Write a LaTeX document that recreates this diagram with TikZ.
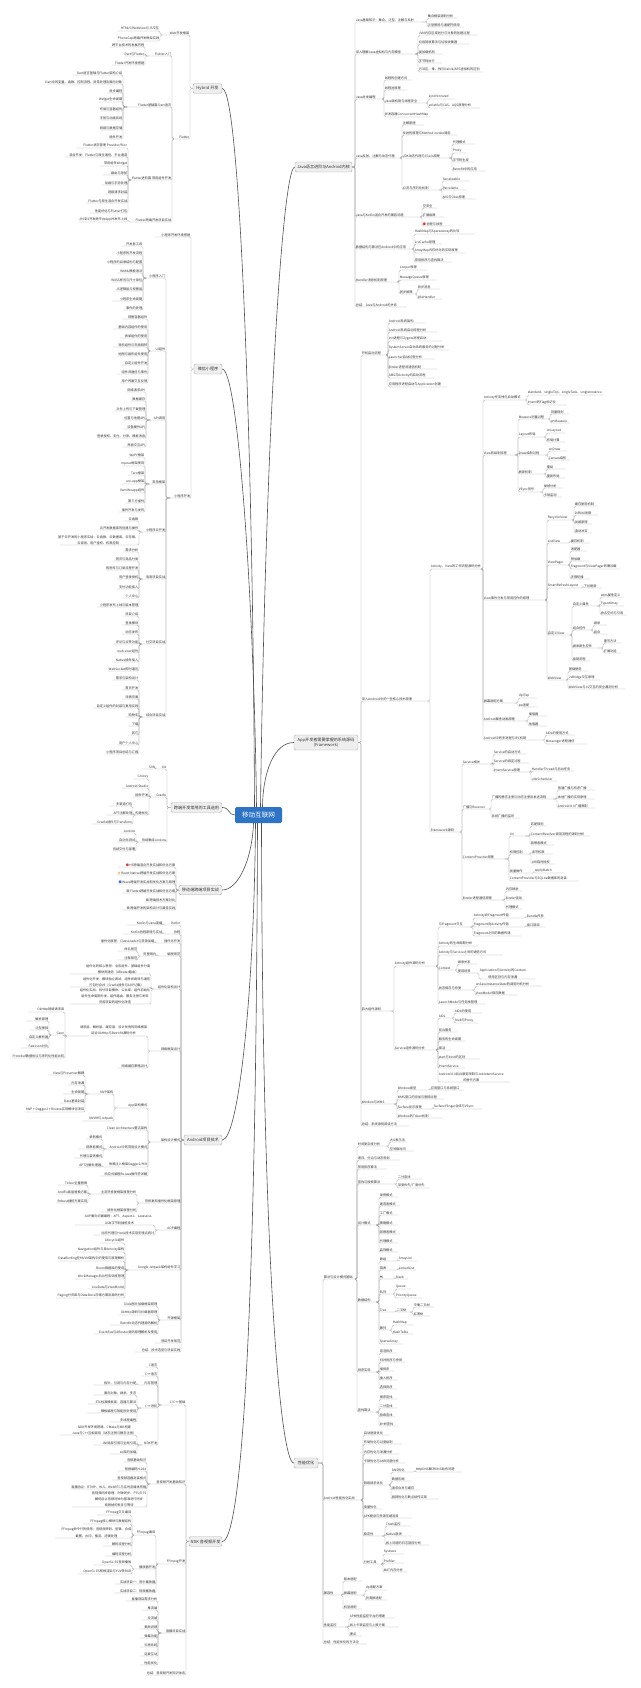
\documentclass[tikz,border=0pt]{standalone}
\usepackage{fontspec}
\setmainfont{Noto Sans CJK SC}
\definecolor{lineG}{HTML}{A0A0A0}
\definecolor{txtG}{HTML}{333333}
\definecolor{boxF}{HTML}{EEEEEE}
\definecolor{boxD}{HTML}{AFAFAF}
\definecolor{mainB}{HTML}{2D74C4}
\definecolor{curveG}{HTML}{505050}
\definecolor{iconR}{HTML}{D9393E}
\definecolor{iconO}{HTML}{F2A531}
\definecolor{iconB}{HTML}{4A6FD8}
\definecolor{iconG}{HTML}{9A9A9A}
\tikzset{
  rn/.style={anchor=south west, inner xsep=0pt, inner ysep=0.45pt, outer sep=0pt, text=txtG},
  ln/.style={anchor=south east, inner xsep=0pt, inner ysep=0.45pt, outer sep=0pt, text=txtG},
  conn/.style={draw=lineG, line width=0.35pt, rounded corners=1.5pt},
  brbox/.style={draw=boxD, fill=boxF, rounded corners=1.5pt, line width=0.4pt, inner sep=0.5pt, text=txtG, font=\fontsize{4.1}{4.9}\selectfont},
  mainbox/.style={fill=mainB, rounded corners=1.5pt, text=white, inner sep=0pt, font=\fontsize{6.6}{8}\selectfont},
  cur/.style={draw=curveG, line width=0.6pt},
  anc/.style={inner sep=0pt, minimum size=0pt, outer sep=0pt}
}
\newcommand\RN[6]{\node[rn] (#2) at (#3,#5) {\makebox[\dimexpr#4pt-#3pt\relax][l]{\hspace{0.8pt}#6}};\draw[conn] (#1.south east) -| (#2.south west) -- (#2.south east);}
\newcommand\LN[6]{\node[ln] (#2) at (#4,#5) {\makebox[\dimexpr#4pt-#3pt\relax][r]{#6\hspace{0.8pt}}};\draw[conn] (#1.south west) -| (#2.south east) -- (#2.south west);}
\begin{document}
\begin{tikzpicture}[x=1pt,y=-1pt,font=\fontsize{3.2}{3.7}\selectfont]
\fill[white] (0,0) rectangle (640,1688);
\useasboundingbox (0,0) rectangle (640,1688);

% ---------- main and branch boxes ----------
\node[mainbox, minimum width=47pt, minimum height=16pt] (main) at (258.5,815) {移动互联网};
\node[brbox, minimum width=29pt, minimum height=9.5pt] (hyb) at (207.5,88.5) {Hybrid 开发};
\node[brbox, minimum width=57pt, minimum height=10pt] (java) at (323.5,167) {Java语言进阶与Android内核};
\node[brbox, minimum width=28pt, minimum height=10pt] (wx) at (208,369) {微信小程序};
\node[brbox, minimum width=64pt, minimum height=15pt, align=center] (fw) at (326,742.5) {App开发者需要掌握的系统源码\\(Framework)};
\node[brbox, minimum width=51pt, minimum height=9.5pt] (kd) at (196.5,807.5) {跨端开发常用的工具选用};
\node[brbox, minimum width=43pt, minimum height=9.5pt] (sz) at (200.5,890) {移动端跨端项目实战};
\node[brbox, minimum width=38pt, minimum height=10pt] (ad) at (203,1140) {Android项目技术};
\node[brbox, minimum width=24pt, minimum height=10pt] (perf) at (306,1463) {性能优化};
\node[brbox, minimum width=33pt, minimum height=9.5pt] (ndk) at (205.5,1541.5) {NDK 音视频开发};

\node[anc] (hybA) at (hyb.west) {};
\node[anc] (wxA) at (wx.west) {};
\node[anc] (kdA) at (kd.west) {};
\node[anc] (szA) at (sz.west) {};
\node[anc] (adA) at (ad.west) {};
\node[anc] (ndA) at (ndk.west) {};
\node[anc] (jvA) at (java.east) {};
\node[anc] (fwA) at (fw.east) {};
\node[anc] (pfA) at (perf.east) {};

% ---------- central curves ----------
\draw[cur] ([xshift=-4pt]main.north) .. controls (253,450) and (240,88.5) .. (hyb.east);
\draw[cur] ([xshift=-2pt]main.north) .. controls (254,600) and (238,369) .. (wx.east);
\draw[cur] ([xshift=2pt]main.north) .. controls (265,450) and (282,167) .. (java.west);
\draw[cur] ([xshift=4pt]main.north) .. controls (263,770) and (275,742.5) .. (fw.west);
\draw[cur] (main.west) .. controls (228,815) and (230,807.5) .. (kd.east);
\draw[cur] ([xshift=-5pt]main.south) .. controls (252,860) and (238,890) .. (sz.east);
\draw[cur] ([xshift=-3pt]main.south) .. controls (254,1000) and (238,1140) .. (ad.east);
\draw[cur] ([xshift=-1pt]main.south) .. controls (256,1350) and (240,1541.5) .. (ndk.east);
\draw[cur] ([xshift=3pt]main.south) .. controls (262,1250) and (280,1463) .. (perf.west);

% ---------- Hybrid ----------
\LN{hybA}{h1}{162}{190}{35}{Web开发框架}
\LN{h1}{h1a}{117}{160}{31}{HTML5/WebView与JS交互}
\LN{h1}{h1b}{117}{160}{41}{PhoneGap跨端开发框架实践}
\LN{hybA}{h2}{173}{190}{139}{Flutter}
\LN{h2}{h2a}{148}{172}{56}{Flutter入门}
\LN{h2a}{h2a1}{110}{145}{47}{跨平台技术的发展历程}
\LN{h2a}{h2a2}{124}{145}{56}{Dart与Flutter}
\LN{h2a}{h2a3}{112}{145}{65}{Flutter开发环境搭建}
\LN{h2}{h2b}{127}{172}{107}{Flutter基础篇 Dart语言}
\LN{h2b}{h2b1}{73}{123}{75}{Dart语言基础与Flutter架构介绍}
\LN{h2b}{h2b2}{47}{123}{84}{Dart中的变量、函数、控制流程、异常处理及面向对象}
\LN{h2b}{h2b3}{107}{123}{93}{异步编程}
\LN{h2b}{h2b4}{99}{123}{102}{Widget生命周期}
\LN{h2b}{h2b5}{101}{123}{111}{布局与容器组件}
\LN{h2b}{h2b6}{101}{123}{120}{手势与动画系统}
\LN{h2b}{h2b7}{101}{123}{130}{网络与数据存储}
\LN{h2b}{h2b8}{110}{123}{139}{插件开发}
\LN{h2}{h2c}{131}{172}{180}{Flutter进阶篇 常用组件开发}
\LN{h2c}{h2c1}{76}{128}{148}{Flutter状态管理 Provider/Bloc}
\LN{h2c}{h2c2}{65}{128}{157}{混合开发：Flutter与原生通信、平台通道}
\LN{h2c}{h2c3}{100}{128}{166}{常用组件Widget}
\LN{h2c}{h2c4}{103}{128}{175}{路由与导航}
\LN{h2c}{h2c5}{102}{128}{185}{动画与手势处理}
\LN{h2c}{h2c6}{105}{128}{194}{网络请求封装}
\LN{h2c}{h2c7}{86}{128}{203}{Flutter与原生混合开发实战}
\LN{h2c}{h2c8}{90}{128}{213}{性能优化与Flutter打包}
\LN{h2}{h2d}{134}{172}{222}{Flutter跨端开发项目实战}
\LN{h2d}{h2d1}{79}{128}{222}{从0到1开发跨平台App并发布上线}

% ---------- 微信小程序 ----------
\LN{wxA}{w1}{155}{191}{237}{小程序开发环境搭建}
\LN{wxA}{w2}{170}{191}{498}{小程序开发}
\LN{w2}{w2a}{146}{166}{278}{小程序入门}
\LN{w2a}{w2a1}{122}{143}{246}{开发者工具}
\LN{w2a}{w2a2}{117}{143}{255}{小程序的开发流程}
\LN{w2a}{w2a3}{112}{143}{264}{小程序的目录结构与配置}
\LN{w2a}{w2a4}{117}{143}{273}{WXML模板语法}
\LN{w2a}{w2a5}{112}{143}{282}{WXSS样式与尺寸单位}
\LN{w2a}{w2a6}{113}{143}{291}{JS逻辑层与视图层}
\LN{w2a}{w2a7}{112}{143}{301}{小程序生命周期}
\LN{w2a}{w2a8}{123}{143}{310}{事件的处理}
\LN{w2}{w2b}{150}{166}{351}{UI组件}
\LN{w2b}{w2b1}{122}{148}{319}{视图容器组件}
\LN{w2b}{w2b2}{113}{148}{329}{基础内容组件的使用}
\LN{w2b}{w2b3}{120}{148}{338}{表单组件的使用}
\LN{w2b}{w2b4}{113}{148}{347}{导航组件与页面跳转}
\LN{w2b}{w2b5}{117}{148}{356}{地图与画布组件使用}
\LN{w2b}{w2b6}{122}{148}{365}{自定义组件开发}
\LN{w2b}{w2b7}{117}{148}{374}{组件间通信与事件}
\LN{w2b}{w2b8}{120}{148}{383}{用户界面交互反馈}
\LN{w2}{w2c}{150}{166}{420}{API调用}
\LN{w2c}{w2c1}{127}{146}{392}{网络请求API}
\LN{w2c}{w2c2}{130}{146}{401}{数据缓存}
\LN{w2c}{w2c3}{115}{146}{411}{文件上传与下载管理}
\LN{w2c}{w2c4}{123}{146}{420}{位置与地图API}
\LN{w2c}{w2c5}{123}{146}{429}{设备硬件API}
\LN{w2c}{w2c6}{99}{146}{438}{登录授权、支付、分享、模板消息}
\LN{w2c}{w2c7}{123}{146}{447}{界面交互API}
\LN{w2}{w2d}{149}{166}{484}{常用框架}
\LN{w2d}{w2d1}{128}{145}{457}{WePY框架}
\LN{w2d}{w2d2}{122}{145}{466}{mpvue框架使用}
\LN{w2d}{w2d3}{128}{145}{475}{Taro框架}
\LN{w2d}{w2d4}{122}{145}{484}{uni-app框架}
\LN{w2d}{w2d5}{122}{145}{493}{Vant Weapp组件}
\LN{w2d}{w2d6}{125}{145}{503}{第三方插件}
\LN{w2d}{w2d7}{119}{145}{512}{插件开发与发布}
\LN{w2}{w2e}{142}{166}{532}{小程序云开发}
\LN{w2e}{w2e1}{123}{139}{521}{云函数}
\LN{w2e}{w2e2}{100}{139}{530}{云开发数据库的创建与操作}
\LN{w2e}{w2e3}{60}{139}{545}{\shortstack{基于云开发的小程序实战：云函数、云数据库、云存储、\\云调用、用户鉴权、权限控制}}
\LN{w2}{w2f}{142}{166}{579}{电商项目实战}
\LN{w2f}{w2f1}{123}{139}{552}{需求分析}
\LN{w2f}{w2f2}{113}{139}{561}{首页与商品分类}
\LN{w2f}{w2f3}{106}{139}{570}{购物车与订单流程开发}
\LN{w2f}{w2f4}{117}{139}{579}{用户登录授权}
\LN{w2f}{w2f5}{117}{139}{589}{支付功能接入}
\LN{w2f}{w2f6}{122}{139}{598}{个人中心}
\LN{w2f}{w2f7}{97}{139}{607}{小程序发布上线与版本管理}
\LN{w2}{w2g}{142}{166}{644}{社交项目实战}
\LN{w2g}{w2g1}{123}{139}{616}{项目介绍}
\LN{w2g}{w2g2}{122}{139}{625}{登录模块}
\LN{w2g}{w2g3}{122}{139}{634}{动态发布}
\LN{w2g}{w2g4}{113}{139}{644}{评论与点赞功能}
\LN{w2g}{w2g5}{118}{139}{653}{web-view组件}
\LN{w2g}{w2g6}{112}{139}{662}{Native插件接入}
\LN{w2g}{w2g7}{107}{139}{671}{WebSocket即时通讯}
\LN{w2}{w2h}{142}{166}{717}{综合项目实战}
\LN{w2h}{w2h1}{112}{139}{680}{需求与架构设计}
\LN{w2h}{w2h2}{122}{139}{690}{首页开发}
\LN{w2h}{w2h3}{122}{139}{699}{详情页面}
\LN{w2h}{w2h4}{93}{139}{708}{自定义组件的封装与复用实践}
\LN{w2h}{w2h5}{125}{139}{717}{购物车}
\LN{w2h}{w2h6}{128}{139}{726}{下载}
\LN{w2h}{w2h7}{128}{139}{735}{其它}
\LN{w2h}{w2h8}{117}{139}{745}{用户个人中心}
\LN{w2h}{w2h9}{105}{139}{754}{小程序项目总结与汇报}

% ---------- 跨端开发工具 ----------
\LN{kdA}{k1}{156}{167}{769}{Git}
\LN{k1}{k1a}{141}{156}{769}{SVN}
\LN{kdA}{k2}{151}{167}{797}{Gradle}
\LN{k2}{k2a}{133}{149}{779}{Groovy}
\LN{k2}{k2b}{122}{149}{788}{Android Studio}
\LN{k2}{k2c}{133}{149}{797}{插件开发}
\LN{k2}{k2d}{135}{149}{815}{构建优化}
\LN{k2d}{k2d1}{109}{133}{806}{多渠道打包}
\LN{k2d}{k2d2}{106}{133}{815}{APT注解处理}
\LN{k2d}{k2d3}{92}{133}{824}{Gradle插件与Transform}
\LN{kdA}{k3}{138}{167}{842}{持续集成Jenkins}
\LN{k3}{k3a}{121}{136}{833}{Jenkins}
\LN{k3}{k3b}{118}{136}{842}{自动化测试}
\LN{k3}{k3c}{113}{136}{851}{持续交付与部署}

% ---------- 移动端跨端项目实战 ----------
\LN{szA}{s1}{118}{176}{867}{\textcolor{iconR}{●}\,H5跨端混合开发实战和优化方案}
\LN{szA}{s2}{117}{176}{875}{\textcolor{iconO}{★}\,React Native跨端开发实战和优化方案}
\LN{szA}{s3}{117}{176}{884}{\textcolor{iconB}{■}\,Weex跨端开发实战和优化方案与原理}
\LN{szA}{s4}{122}{176}{893}{\textcolor{iconG}{■}\,Flutter跨端开发实战和优化方案}
\LN{szA}{s5}{145}{176}{902}{\textcolor{iconG}{■}\,跨端技术方案对比}
\LN{szA}{s6}{122}{176}{910}{\textcolor{iconG}{■}\,跨端开发的架构设计与最佳实践}

% ---------- Android项目技术 ----------
\LN{adA}{a1}{165}{181}{925}{Kotlin}
\LN{a1}{a1a}{127}{163}{925}{Kotlin与Java混编}
\LN{adA}{a2}{165}{181}{934}{协程}
\LN{a2}{a2a}{123}{163}{934}{Kotlin协程原理与实战}
\LN{adA}{a3}{158}{181}{943}{插件化开发}
\LN{a3}{a3a}{100}{155}{943}{插件化原理：ClassLoader与资源加载}
\LN{adA}{a4}{161}{181}{956}{编程规范}
\LN{a4}{a4a}{140}{157}{956}{阿里规约}
\LN{a4a}{a4a1}{118}{138}{951}{命名规范}
\LN{a4a}{a4a2}{118}{138}{960}{注释规范}
\LN{adA}{a5}{153}{181}{989}{组件化架构设计}
\LN{a5}{a5a}{70}{151}{974}{\shortstack{组件化的核心思想：业务组件、基础组件分离\\模块间通信（ARouter路由）}}
\LN{a5}{a5b}{70}{151}{987}{\shortstack{组件化开发：模块独立调试、组件间跳转与通信\\打包时合并（Gradle插件与AOP切面）}}
\LN{a5}{a5c}{70}{151}{1004}{\shortstack{组件化实战：拆分项目模块、公共库、组件初始化\\组件生命周期分发、组件路由、服务注册与发现\\完成项目的组件化改造}}
\LN{adA}{a6}{150}{181}{1051}{网络框架设计}
\LN{a6}{a6a}{66}{148}{1036}{\shortstack{请求层、解析层、缓存层：设计优秀的网络框架\\结合OkHttp与Retrofit源码分析}}
\LN{a6a}{a6a1}{28}{65}{1012}{OkHttp网络请求库}
\LN{a6a}{a6a2}{51}{65}{1035}{Gson}
\LN{a6a2}{a6a2a}{26}{49}{1021}{解析原理}
\LN{a6a2}{a6a2b}{30}{49}{1030}{泛型擦除}
\LN{a6a2}{a6a2c}{26}{49}{1039}{自定义解析器}
\LN{a6a2}{a6a2d}{21}{49}{1048}{FastJson对比}
\LN{a6a}{a6a3}{12}{65}{1058}{Protobuf数据协议与序列化性能比较}
\LN{a6}{a6b}{117}{148}{1068}{网络缓存策略设计}
\LN{adA}{a7}{150}{181}{1142}{架构设计模式}
\LN{a7}{a7a}{117}{148}{1108}{App架构模式}
\LN{a7a}{a7a1}{88}{114}{1094}{MVP架构}
\LN{a7a1}{a7a1a}{48}{85}{1075}{View与Presenter解耦}
\LN{a7a1}{a7a1b}{68}{85}{1085}{内存泄漏}
\LN{a7a1}{a7a1c}{63}{85}{1094}{生命周期}
\LN{a7a1}{a7a1d}{60}{85}{1103}{Base基类封装}
\LN{a7a1}{a7a1e}{25}{85}{1112}{MVP + Dagger2 + RxJava实现模块化项目}
\LN{a7a}{a7a2}{82}{114}{1121}{MVVM与Jetpack}
\LN{a7}{a7b}{105}{148}{1130}{Clean Architecture整洁架构}
\LN{a7}{a7c}{106}{148}{1149}{Android中的常用设计模式}
\LN{a7c}{a7c1}{86}{103}{1139}{单例模式}
\LN{a7c}{a7c2}{78}{103}{1149}{观察者模式}
\LN{a7c}{a7c3}{74}{103}{1158}{代理与装饰模式}
\LN{a7}{a7d}{105}{148}{1167}{依赖注入框架Dagger2/Hilt}
\LN{a7d}{a7d1}{78}{102}{1167}{APT注解处理器}
\LN{a7}{a7e}{100}{148}{1176}{响应式编程RxJava操作符详解}
\LN{adA}{a8}{138}{181}{1203}{热修复和插件化框架原理}
\LN{a8}{a8a}{91}{137}{1194}{主流热修复框架原理分析}
\LN{a8a}{a8a1}{58}{88}{1185}{Tinker全量替换}
\LN{a8a}{a8a2}{56}{88}{1194}{AndFix底层替换方案}
\LN{a8a}{a8a3}{56}{88}{1203}{Robust插桩方案实现}
\LN{a8}{a8b}{101}{137}{1212}{插件化框架原理分析}
\LN{adA}{a9}{158}{181}{1230}{AOP编程}
\LN{a9}{a9a}{75}{155}{1225}{\shortstack{AOP面向切面编程：APT、AspectJ、Javassist、\\ASM字节码插桩技术}}
\LN{a9}{a9b}{93}{155}{1235}{动态代理与Hook技术实现无埋点统计}
\LN{adA}{a10}{128}{181}{1270}{Google Jetpack架构组件学习}
\LN{a10}{a10a}{100}{125}{1243}{Lifecycle组件}
\LN{a10}{a10b}{75}{125}{1252}{Navigation组件与单Activity架构}
\LN{a10}{a10c}{58}{125}{1261}{DataBinding在MVVM架构中的使用与原理解析}
\LN{a10}{a10d}{95}{125}{1270}{Room数据库的使用}
\LN{a10}{a10e}{75}{125}{1279}{WorkManager后台任务调度管理}
\LN{a10}{a10f}{88}{125}{1289}{LiveData与ViewModel}
\LN{a10}{a10g}{56}{125}{1298}{Paging分页库与DataStore存储方案及源码分析}
\LN{adA}{a11}{160}{181}{1320}{开源框架}
\LN{a11}{a11a}{123}{158}{1306}{Glide图片加载框架原理}
\LN{a11}{a11b}{119}{158}{1315}{OkHttp源码与拦截器原理}
\LN{a11}{a11c}{110}{158}{1325}{Retrofit动态代理源码解析}
\LN{a11}{a11d}{94}{158}{1334}{EventBus与ARouter源码原理解析及使用}
\LN{adA}{a12}{155}{181}{1343}{项目开发规范}
\LN{adA}{a13}{135}{181}{1352}{总结：技术选型与项目实践}

% ---------- NDK 音视频开发 ----------
\LN{ndA}{n1}{161}{186}{1405}{C/C++基础}
\LN{n1}{n1a}{145}{158}{1367}{C语言}
\LN{n1}{n1b}{141}{158}{1376}{C++语言}
\LN{n1}{n1c}{141}{158}{1385}{内存管理}
\LN{n1c}{n1c1}{93}{137}{1385}{指针、引用与内存分配}
\LN{n1}{n1d}{141}{158}{1408}{C++进阶}
\LN{n1d}{n1d1}{93}{137}{1395}{面向对象、继承、多态}
\LN{n1d}{n1d2}{88}{137}{1404}{STL标准模板库：容器与算法}
\LN{n1d}{n1d3}{87}{137}{1413}{模板编程与智能指针使用}
\LN{n1d}{n1d4}{110}{137}{1422}{多线程编程}
\LN{n1}{n1e}{141}{158}{1445}{NDK开发}
\LN{n1e}{n1e1}{60}{137}{1435}{\shortstack{NDK开发环境搭建、CMake与MK构建\\Java与C++互相调用（动态注册与静态注册）}}
\LN{n1e}{n1e2}{93}{137}{1445}{JNI局部引用与全局引用}
\LN{n1e}{n1e3}{110}{137}{1454}{so库的加载}
\LN{ndA}{n2}{150}{186}{1484}{音视频开发基础知识}
\LN{n2}{n2a}{123}{147}{1462}{音频基础知识}
\LN{n2}{n2b}{118}{147}{1471}{视频编码H.264}
\LN{n2}{n2c}{112}{147}{1480}{音视频容器封装格式}
\LN{n2}{n2d}{73}{147}{1489}{直播协议：RTMP、HLS、WebRTC与实时流媒体传输}
\LN{n2}{n2e}{72}{147}{1507}{\shortstack{音视频同步原理：时钟同步、PTS/DTS\\解码后以音频时钟为基准进行同步\\视频帧的丢弃与等待}}
\LN{ndA}{n3}{158}{186}{1564}{FFmpeg开发}
\LN{n3}{n3a}{134}{156}{1535}{FFmpeg编译}
\LN{n3a}{n3a1}{97}{132}{1515}{FFmpeg交叉编译}
\LN{n3a}{n3a2}{83}{132}{1524}{FFmpeg核心模块与数据结构}
\LN{n3a}{n3a3}{55}{132}{1538}{\shortstack{FFmpeg命令行的使用：音视频转码、剪辑、合成\\截图、水印、推流、滤镜处理}}
\LN{n3a}{n3a4}{103}{132}{1546}{解码流程分析}
\LN{n3a}{n3a5}{105}{132}{1556}{编码流程分析}
\LN{n3}{n3b}{133}{156}{1569}{播放器开发}
\LN{n3b}{n3b1}{93}{132}{1565}{OpenSL ES音频播放}
\LN{n3b}{n3b2}{78}{132}{1574}{OpenGL ES视频渲染与YUV转RGB}
\LN{n3}{n3c}{115}{156}{1584}{实战项目一：音乐播放器}
\LN{n3}{n3d}{114}{156}{1593}{实战项目二：视频播放器}
\LN{ndA}{n4}{161}{186}{1633}{直播项目实战}
\LN{n4}{n4a}{126}{158}{1601}{直播项目需求分析}
\LN{n4}{n4b}{142}{158}{1610}{推流端}
\LN{n4}{n4c}{142}{158}{1620}{拉流端}
\LN{n4}{n4d}{140}{158}{1629}{美颜滤镜}
\LN{n4}{n4e}{140}{158}{1638}{弹幕功能}
\LN{n4}{n4f}{140}{158}{1647}{礼物系统}
\LN{n4}{n4g}{140}{158}{1656}{连麦互动}
\LN{n4}{n4h}{140}{158}{1665}{性能优化}
\LN{ndA}{n5}{146}{186}{1675}{总结：音视频开发知识体系}

% ---------- Java ----------
\RN{jvA}{j1}{355}{422}{22}{Java基础知识：集合、泛型、注解与反射}
\RN{j1}{j1a}{427}{457}{18}{集合框架源码分析}
\RN{j1}{j1b}{427}{464}{27}{泛型擦除与通配符使用}
\RN{jvA}{j2}{355}{415}{54}{深入理解Java虚拟机与内存模型}
\RN{j2}{j2a}{418}{477}{35}{JVM内存区域划分与对象的创建过程}
\RN{j2}{j2b}{418}{469}{44}{垃圾回收算法与垃圾收集器}
\RN{j2}{j2c}{418}{442}{54}{类加载机制}
\RN{j2}{j2d}{418}{442}{63}{字节码执行}
\RN{j2}{j2e}{418}{482}{72}{方法区、堆、栈与Dalvik/ART虚拟机的区别}
\RN{jvA}{j3}{355}{382}{99}{Java并发编程}
\RN{j3}{j3a}{384}{412}{80}{线程的创建方式}
\RN{j3}{j3b}{384}{407}{90}{线程池原理}
\RN{j3}{j3c}{384}{426}{103}{Java锁机制与线程安全}
\RN{j3c}{j3c1}{428}{455}{99}{synchronized}
\RN{j3c}{j3c2}{428}{480}{108}{volatile与CAS、AQS原理分析}
\RN{j3}{j3d}{384}{430}{117}{并发容器ConcurrentHashMap}
\RN{jvA}{j4}{355}{400}{158}{Java反射、注解与动态代理}
\RN{j4}{j4a}{402}{424}{125}{注解原理}
\RN{j4}{j4b}{402}{457}{135}{反射的原理与Method.invoke调用}
\RN{j4}{j4c}{402}{449}{158}{JDK动态代理与CGLib原理}
\RN{j4c}{j4c1}{452}{474}{144}{代理模式}
\RN{j4c}{j4c2}{452}{466}{153}{Proxy}
\RN{j4c}{j4c3}{452}{474}{162}{字节码生成}
\RN{j4c}{j4c4}{452}{485}{171}{Retrofit中的应用}
\RN{j4}{j4d}{402}{439}{190}{IO流与序列化机制}
\RN{j4d}{j4d1}{442}{469}{181}{Serializable}
\RN{j4d}{j4d2}{442}{466}{190}{Parcelable}
\RN{j4d}{j4d3}{442}{476}{199}{NIO与Okio原理}
\RN{jvA}{j5}{355}{420}{217}{Java与Kotlin混合开发的兼容问题}
\RN{j5}{j5a}{422}{437}{208}{空安全}
\RN{j5}{j5b}{422}{444}{217}{扩展函数}
\RN{j5}{j5c}{422}{450}{226}{\textcolor{iconR}{●}\,协程与线程}
\RN{jvA}{j6}{355}{412}{249}{数据结构与算法在Android中的应用}
\RN{j6}{j6a}{414}{474}{234}{HashMap与SparseArray的比较}
\RN{j6}{j6b}{414}{442}{244}{LruCache原理}
\RN{j6}{j6c}{414}{465}{253}{ArrayMap内存优化的实现原理}
\RN{j6}{j6d}{414}{452}{262}{常用排序与查找算法}
\RN{jvA}{j7}{355}{397}{282}{Handler消息机制原理}
\RN{j7}{j7a}{399}{427}{270}{Looper原理}
\RN{j7}{j7b}{399}{437}{280}{MessageQueue原理}
\RN{j7}{j7c}{399}{415}{294}{同步屏障}
\RN{j7c}{j7c1}{417}{440}{289}{异步消息}
\RN{j7c}{j7c2}{417}{442}{299}{IdleHandler}
\RN{jvA}{j8}{355}{407}{307}{总结：Java与Android的关系}

% ---------- Framework ----------
\RN{fwA}{f1}{361}{386}{355}{开机启动流程}
\RN{f1}{f1a}{388}{425}{323}{Android系统架构}
\RN{f1}{f1b}{388}{437}{332}{Android系统启动流程分析}
\RN{f1}{f1c}{388}{442}{341}{init进程与Zygote进程启动}
\RN{f1}{f1d}{388}{449}{350}{SystemServer启动系统服务的过程分析}
\RN{f1}{f1e}{388}{435}{359}{Launcher启动过程分析}
\RN{f1}{f1f}{388}{437}{369}{Binder进程间通信机制}
\RN{f1}{f1g}{388}{434}{378}{AMS与Activity的启动流程}
\RN{f1}{f1h}{388}{447}{387}{应用程序进程启动与Application创建}
\RN{fwA}{f2}{361}{427}{701}{深入Android中的一些核心技术原理}
\RN{f2}{f2a}{430}{481}{569}{Activity、View的工作流程源码分析}
\RN{f2a}{f2a1}{483}{525}{400}{Activity任务栈与启动模式}
\RN{f2a1}{f2a1a}{527}{604}{395}{standard、singleTop、singleTask、singleInstance}
\RN{f2a1}{f2a1b}{527}{567}{405}{Intent的Flag标记位}
\RN{f2a}{f2a2}{483}{515}{455}{View的绘制流程}
\RN{f2a2}{f2a2a}{518}{549}{419}{Measure测量过程}
\RN{f2a2a}{f2a2a1}{550}{569}{414}{测量规则}
\RN{f2a2a}{f2a2a2}{550}{570}{423}{onMeasure}
\RN{f2a2}{f2a2b}{518}{544}{437}{Layout布局}
\RN{f2a2b}{f2a2b1}{546}{565}{433}{onLayout}
\RN{f2a2b}{f2a2b2}{546}{565}{442}{布局计算}
\RN{f2a2}{f2a2c}{518}{545}{455}{Draw绘制过程}
\RN{f2a2c}{f2a2c1}{548}{567}{451}{onDraw}
\RN{f2a2c}{f2a2c2}{548}{570}{460}{Canvas绘图}
\RN{f2a2}{f2a2d}{518}{544}{474}{刷新机制}
\RN{f2a2d}{f2a2d1}{546}{565}{469}{重绘}
\RN{f2a2d}{f2a2d2}{546}{565}{478}{重新布局}
\RN{f2a2}{f2a2e}{518}{540}{492}{VSync信号}
\RN{f2a2e}{f2a2e1}{543}{562}{488}{掉帧分析}
\RN{f2a2e}{f2a2e2}{543}{562}{497}{卡顿监测}
\RN{f2a}{f2a3}{483}{545}{600}{View事件分发与常用控件的原理}
\RN{f2a3}{f2a3a}{547}{572}{520}{RecyclerView}
\RN{f2a3a}{f2a3a1}{574}{598}{506}{缓存复用机制}
\RN{f2a3a}{f2a3a2}{574}{598}{515}{DiffUtil刷新}
\RN{f2a3a}{f2a3a3}{574}{592}{524}{动画原理}
\RN{f2a3a}{f2a3a4}{574}{592}{533}{滑动冲突}
\RN{f2a3}{f2a3b}{547}{566}{543}{ListView}
\RN{f2a3b}{f2a3b1}{570}{590}{543}{缓存机制}
\RN{f2a3}{f2a3c}{547}{568}{565}{ViewPager}
\RN{f2a3c}{f2a3c1}{570}{587}{551}{适配器}
\RN{f2a3c}{f2a3c2}{570}{589}{561}{预加载}
\RN{f2a3c}{f2a3c3}{570}{620}{569}{Fragment与ViewPager的懒加载}
\RN{f2a3c}{f2a3c4}{570}{590}{579}{无限轮播}
\RN{f2a3}{f2a3d}{547}{580}{588}{SmartRefreshLayout}
\RN{f2a3d}{f2a3d1}{583}{602}{588}{下拉刷新}
\RN{f2a3}{f2a3e}{547}{570}{635}{自定义View}
\RN{f2a3e}{f2a3e1}{572}{597}{606}{自定义属性}
\RN{f2a3e1}{f2a3e1a}{600}{624}{597}{attrs属性定义}
\RN{f2a3e1}{f2a3e1b}{600}{624}{606}{TypedArray}
\RN{f2a3e1}{f2a3e1c}{600}{627}{615}{命名空间与引用}
\RN{f2a3e}{f2a3e2}{572}{592}{630}{组合控件}
\RN{f2a3e2}{f2a3e2a}{593}{607}{625}{继承}
\RN{f2a3e2}{f2a3e2b}{593}{607}{634}{组合}
\RN{f2a3e}{f2a3e3}{572}{599}{648}{继承原生控件}
\RN{f2a3e3}{f2a3e3a}{603}{621}{643}{重写方法}
\RN{f2a3e3}{f2a3e3b}{603}{621}{653}{扩展功能}
\RN{f2a3e}{f2a3e4}{572}{590}{661}{绘制流程}
\RN{f2a3}{f2a3f}{547}{566}{680}{WebView}
\RN{f2a3f}{f2a3f1}{568}{588}{671}{基础使用}
\RN{f2a3f}{f2a3f2}{568}{600}{680}{JsBridge交互原理}
\RN{f2a3f}{f2a3f3}{568}{625}{689}{WebView与JS交互的安全漏洞分析}
\RN{f2a}{f2a4}{483}{515}{703}{屏幕适配方案}
\RN{f2a4}{f2a4a}{518}{537}{698}{dp与sp}
\RN{f2a4}{f2a4b}{518}{537}{707}{sw适配}
\RN{f2a}{f2a5}{483}{525}{721}{Android属性动画原理}
\RN{f2a5}{f2a5a}{528}{547}{716}{插值器}
\RN{f2a5}{f2a5b}{528}{547}{726}{估值器}
\RN{f2a}{f2a6}{483}{542}{740}{Android中的多进程与IPC机制}
\RN{f2a6}{f2a6a}{545}{575}{735}{AIDL的使用方式}
\RN{f2a6}{f2a6b}{545}{587}{744}{Messenger进程通信}
\RN{f2}{f2b}{430}{460}{832}{Framework源码}
\RN{f2b}{f2b1}{462}{490}{764}{Service相关}
\RN{f2b1}{f2b1a}{493}{526}{754}{Service的启动方式}
\RN{f2b1}{f2b1b}{493}{529}{763}{Service的绑定过程}
\RN{f2b1}{f2b1c}{493}{529}{772}{IntentService原理}
\RN{f2b1c}{f2b1c1}{531}{574}{771}{HandlerThread与后台任务}
\RN{f2b1c}{f2b1c2}{531}{557}{781}{JobScheduler}
\RN{f2b}{f2b2}{462}{490}{809}{广播与Receiver}
\RN{f2b2}{f2b2a}{491}{553}{799}{广播的静态注册与动态注册及发送流程}
\RN{f2b2a}{f2b2a1}{557}{595}{790}{普通广播与有序广播}
\RN{f2b2a}{f2b2a2}{557}{595}{799}{本地广播的实现原理}
\RN{f2b2a}{f2b2a3}{557}{595}{808}{Android 8.0广播限制}
\RN{f2b2}{f2b2b}{491}{520}{818}{系统广播的监听}
\RN{f2b}{f2b3}{462}{505}{859}{ContentProvider原理}
\RN{f2b3}{f2b3a}{509}{525}{836}{Uri}
\RN{f2b3a}{f2b3a1}{530}{546}{826}{匹配规则}
\RN{f2b3a}{f2b3a2}{530}{590}{836}{ContentResolver调用流程的源码分析}
\RN{f2b3a}{f2b3a3}{530}{554}{845}{观察者模式}
\RN{f2b3}{f2b3b}{509}{529}{854}{权限控制}
\RN{f2b3b}{f2b3b1}{531}{553}{854}{读写权限}
\RN{f2b3b}{f2b3b2}{531}{554}{864}{URI临时授权}
\RN{f2b3}{f2b3c}{509}{530}{873}{批量操作}
\RN{f2b3c}{f2b3c1}{534}{564}{873}{applyBatch}
\RN{f2b3}{f2b3d}{509}{579}{881}{ContentProvider与SQLite数据库的封装}
\RN{f2b}{f2b4}{462}{502}{900}{Binder进程通信原理}
\RN{f2b4}{f2b4a}{505}{522}{891}{内存映射}
\RN{f2b4}{f2b4b}{505}{525}{900}{Binder驱动}
\RN{f2b4}{f2b4c}{505}{522}{909}{代理模式}
\RN{fwA}{f3}{361}{390}{1011}{四大组件源码}
\RN{f3}{f3a}{394}{436}{966}{Activity组件源码分析}
\RN{f3a}{f3a1}{438}{470}{927}{与Fragment交互}
\RN{f3a1}{f3a1a}{473}{520}{918}{Activity向Fragment传值}
\RN{f3a1a}{f3a1a1}{526}{545}{918}{Bundle传参}
\RN{f3a1}{f3a1b}{473}{520}{927}{Fragment向Activity传值}
\RN{f3a1b}{f3a1b1}{526}{545}{927}{接口回调}
\RN{f3a1}{f3a1c}{473}{521}{936}{Fragment之间的数据传递}
\RN{f3a}{f3a2}{438}{479}{946}{Activity的生命周期分析}
\RN{f3a}{f3a3}{438}{503}{955}{Activity与Service之间的通信方式}
\RN{f3a}{f3a4}{438}{455}{970}{Context}
\RN{f3a4}{f3a4a}{457}{477}{964}{继承关系}
\RN{f3a4}{f3a4b}{457}{477}{973}{使用场景}
\RN{f3a4b}{f3a4b1}{479}{535}{979}{\shortstack{Application与Activity的Context\\使用区别与内存泄漏}}
\RN{f3a}{f3a5}{438}{472}{990}{状态保存与恢复}
\RN{f3a5}{f3a5a}{475}{542}{986}{onSaveInstanceState的调用时机分析}
\RN{f3a5}{f3a5b}{475}{517}{995}{ViewModel保存数据}
\RN{f3a}{f3a6}{438}{485}{1004}{LaunchMode与任务栈管理}
\RN{f3}{f3b}{394}{436}{1050}{Service组件源码分析}
\RN{f3b}{f3b1}{438}{452}{1018}{AIDL}
\RN{f3b1}{f3b1a}{454}{482}{1013}{AIDL的使用}
\RN{f3b1}{f3b1b}{454}{478}{1023}{Stub与Proxy}
\RN{f3b}{f3b2}{438}{457}{1032}{前台服务}
\RN{f3b}{f3b3}{438}{465}{1041}{服务的生命周期}
\RN{f3b}{f3b4}{438}{451}{1050}{保活}
\RN{f3b}{f3b5}{438}{480}{1059}{start与bind的区别}
\RN{f3b}{f3b6}{438}{465}{1068}{IntentService}
\RN{f3b}{f3b7}{438}{510}{1082}{\shortstack{Android 8.0后台服务限制与JobIntentService\\的替代方案}}
\RN{fwA}{f4}{361}{394}{1104}{Window与WMS}
\RN{f4}{f4a}{397}{425}{1090}{Window类型}
\RN{f4a}{f4a1}{430}{464}{1090}{应用窗口与系统窗口}
\RN{f4}{f4b}{397}{444}{1099}{WMS窗口的添加与删除过程}
\RN{f4}{f4c}{397}{429}{1109}{Surface显示原理}
\RN{f4c}{f4c1}{433}{482}{1109}{SurfaceFlinger合成与VSync}
\RN{f4}{f4d}{397}{442}{1118}{Window的Token机制}
\RN{fwA}{f5}{361}{409}{1126}{总结：系统源码阅读方法}

% ---------- 性能优化 ----------
\RN{pfA}{p1}{323}{355}{1279}{算法与设计模式基础}
\RN{p1}{p1a}{357}{387}{1146}{时间复杂度分析}
\RN{p1a}{p1a1}{389}{407}{1142}{大O表示法}
\RN{p1a}{p1a2}{389}{414}{1151}{空间换时间}
\RN{p1}{p1b}{357}{400}{1160}{递归、分治与动态规划}
\RN{p1}{p1c}{357}{387}{1169}{常用排序算法}
\RN{p1}{p1d}{357}{394}{1184}{查找与搜索算法}
\RN{p1d}{p1d1}{397}{422}{1179}{二分查找}
\RN{p1d}{p1d2}{397}{429}{1188}{深度优先/广度优先}
\RN{p1}{p1e}{357}{376}{1225}{设计模式}
\RN{p1e}{p1e1}{379}{398}{1197}{单例模式}
\RN{p1e}{p1e2}{379}{400}{1206}{建造者模式}
\RN{p1e}{p1e3}{379}{398}{1215}{工厂模式}
\RN{p1e}{p1e4}{379}{398}{1225}{策略模式}
\RN{p1e}{p1e5}{379}{400}{1234}{观察者模式}
\RN{p1e}{p1e6}{379}{398}{1243}{代理模式}
\RN{p1e}{p1e7}{379}{398}{1252}{装饰模式}
\RN{p1}{p1f}{357}{376}{1302}{数据结构}
\RN{p1f}{p1f1}{379}{393}{1261}{数组}
\RN{p1f1}{p1f1a}{398}{417}{1261}{ArrayList}
\RN{p1f}{p1f2}{379}{393}{1270}{链表}
\RN{p1f2}{p1f2a}{398}{416}{1270}{LinkedList}
\RN{p1f}{p1f3}{379}{390}{1279}{栈}
\RN{p1f3}{p1f3a}{395}{408}{1279}{Stack}
\RN{p1f}{p1f4}{379}{393}{1294}{队列}
\RN{p1f4}{p1f4a}{395}{411}{1289}{Queue}
\RN{p1f4}{p1f4b}{395}{422}{1298}{PriorityQueue}
\RN{p1f}{p1f5}{379}{392}{1312}{Tree}
\RN{p1f5}{p1f5a}{396}{410}{1312}{二叉树}
\RN{p1f5a}{p1f5a1}{413}{434}{1307}{平衡二叉树}
\RN{p1f5a}{p1f5a2}{413}{430}{1316}{红黑树}
\RN{p1f}{p1f6}{379}{390}{1330}{散列}
\RN{p1f6}{p1f6a}{392}{413}{1325}{HashMap}
\RN{p1f6}{p1f6b}{392}{413}{1334}{HashTable}
\RN{p1f}{p1f7}{379}{402}{1344}{SparseArray}
\RN{p1}{p1g}{357}{376}{1372}{排序实现}
\RN{p1g}{p1g1}{379}{397}{1353}{冒泡排序}
\RN{p1g}{p1g2}{379}{405}{1362}{归并排序与快排}
\RN{p1g}{p1g3}{379}{394}{1371}{堆排序}
\RN{p1g}{p1g4}{379}{397}{1380}{插入排序}
\RN{p1g}{p1g5}{379}{397}{1389}{选择排序}
\RN{p1}{p1h}{357}{376}{1412}{查找算法}
\RN{p1h}{p1h1}{379}{397}{1399}{顺序查找}
\RN{p1h}{p1h2}{379}{397}{1408}{二分查找}
\RN{p1h}{p1h3}{379}{395}{1417}{哈希查找}
\RN{p1h}{p1h4}{379}{398}{1426}{B+树查找}
\RN{pfA}{p2}{323}{361}{1500}{Android性能优化实战}
\RN{p2}{p2a}{363}{389}{1435}{启动速度优化}
\RN{p2}{p2b}{363}{402}{1444}{布局优化与过度绘制}
\RN{p2}{p2c}{363}{399}{1454}{内存优化与泄漏分析}
\RN{p2}{p2d}{363}{405}{1463}{卡顿优化与ANR问题分析}
\RN{p2}{p2e}{363}{389}{1485}{网络请求优化}
\RN{p2e}{p2e1}{391}{409}{1472}{DNS优化}
\RN{p2e1}{p2e1a}{415}{462}{1472}{HttpDNS解决DNS劫持问题}
\RN{p2e}{p2e2}{391}{412}{1481}{数据压缩}
\RN{p2e}{p2e3}{391}{420}{1490}{请求合并与缓存}
\RN{p2e}{p2e4}{391}{439}{1499}{弱网优化与断点续传实现}
\RN{p2}{p2f}{363}{382}{1509}{电量优化}
\RN{p2}{p2g}{363}{412}{1518}{APK瘦身与资源压缩混淆}
\RN{p2}{p2h}{363}{382}{1536}{稳定性}
\RN{p2h}{p2h1}{385}{410}{1526}{Crash监控}
\RN{p2h}{p2h2}{385}{412}{1536}{Native崩溃}
\RN{p2h}{p2h3}{385}{429}{1545}{线上问题的日志回捞分析}
\RN{p2}{p2i}{363}{381}{1564}{分析工具}
\RN{p2i}{p2i1}{383}{404}{1554}{Systrace}
\RN{p2i}{p2i2}{383}{404}{1563}{Profiler}
\RN{p2i}{p2i3}{383}{407}{1572}{MAT内存分析}
\RN{pfA}{p3}{323}{341}{1595}{兼容性}
\RN{p3}{p3a}{343}{362}{1581}{版本适配}
\RN{p3}{p3b}{343}{362}{1595}{屏幕适配}
\RN{p3b}{p3b1}{365}{387}{1590}{dp适配方案}
\RN{p3b}{p3b2}{365}{387}{1600}{刘海屏适配}
\RN{p3}{p3c}{343}{362}{1609}{机型适配}
\RN{pfA}{p4}{323}{345}{1627}{性能监控}
\RN{p4}{p4a}{349}{394}{1618}{APM性能监控平台的搭建}
\RN{p4}{p4b}{349}{399}{1627}{线上卡顿监控与上报方案}
\RN{p4}{p4c}{349}{362}{1636}{埋点}
\RN{pfA}{p5}{323}{367}{1644}{总结：性能优化的方法论}
\end{tikzpicture}
\end{document}
